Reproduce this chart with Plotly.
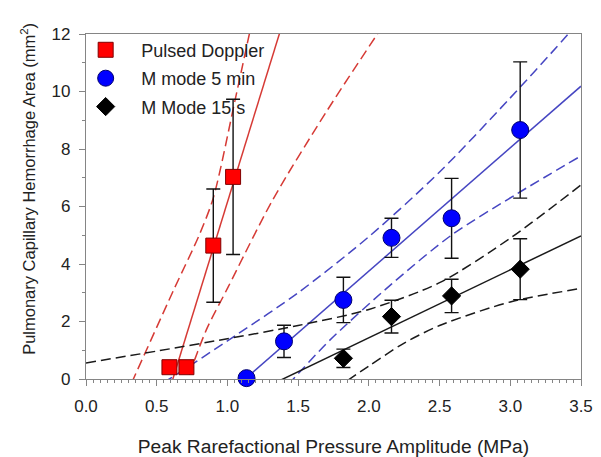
import numpy as np
import plotly.graph_objects as go

# --- data ---
pd_x = [0.59, 0.71, 0.90, 1.04]
pd_y = [0.41, 0.41, 4.64, 7.03]
pd_err = [0.0, 0.0, 1.97, 2.70]

m5_x = [1.135, 1.40, 1.82, 2.16, 2.585, 3.07]
m5_y = [0.03, 1.31, 2.75, 4.91, 5.59, 8.66]
m5_err = [0.0, 0.56, 0.79, 0.68, 1.39, 2.37]

m15_x = [1.82, 2.16, 2.585, 3.07]
m15_y = [0.72, 2.17, 2.89, 3.82]
m15_err = [0.32, 0.57, 0.58, 1.06]

# confidence-band curves, values
pd_band_hi_x = [0.28, 0.335, 0.62, 0.80, 0.90, 1.054, 1.155, 1.20]
pd_band_hi_y = [-0.6, 0.0, 3.1, 5.0, 6.3, 9.7, 12.0, 13.0]
pd_band_lo_x = [0.70, 0.72, 0.85, 1.0, 1.32, 1.7, 2.06, 2.12]
pd_band_lo_y = [-0.35, 0.0, 1.7, 3.15, 6.23, 9.3, 12.0, 12.45]

m5_band_hi_x = [0.55, 0.59, 1.06, 1.50, 2.00, 2.50, 2.985, 3.41, 3.46]
m5_band_hi_y = [-0.12, 0.0, 1.52, 3.0, 4.95, 7.2, 9.7, 12.0, 12.3]
m5_band_lo_x = [1.43, 1.466, 1.726, 2.16, 2.586, 3.05, 3.5]
m5_band_lo_y = [-0.19, 0.0, 1.36, 3.3, 5.01, 6.45, 7.76]

m15_band_hi_x = [0.0, 0.5, 1.0, 1.5, 2.0, 2.5, 3.0, 3.5]
m15_band_hi_y = [0.56, 0.97, 1.40, 1.86, 2.42, 3.35, 4.90, 6.75]
m15_band_lo_x = [1.85, 2.0, 2.25, 2.5, 3.0, 3.5]
m15_band_lo_y = [-0.05, 0.45, 1.25, 1.86, 2.68, 3.15]

x_ticks = [0.0, 0.5, 1.0, 1.5, 2.0, 2.5, 3.0, 3.5]
y_ticks = [0, 2, 4, 6, 8, 10, 12]
x_range = [0, 3.5]
y_range = [0, 12]

x_title = "Peak Rarefactional Pressure Amplitude (MPa)"
y_title = "Pulmonary Capillary Hemorrhage Area (mm<sup>2</sup>)"

series = [
    dict(name="Pulsed Doppler", x=pd_x, y=pd_y, e=pd_err,
         bands=[(pd_band_hi_x, pd_band_hi_y), (pd_band_lo_x, pd_band_lo_y)],
         mcol="#ff0000", lcol="#d63a35", sym="square", size=15, mline="#800000"),
    dict(name="M mode 5 min", x=m5_x, y=m5_y, e=m5_err,
         bands=[(m5_band_hi_x, m5_band_hi_y), (m5_band_lo_x, m5_band_lo_y)],
         mcol="#0000ff", lcol="#4646c2", sym="circle", size=17, mline="#000070"),
    dict(name="M Mode 15 s", x=m15_x, y=m15_y, e=m15_err,
         bands=[(m15_band_hi_x, m15_band_hi_y), (m15_band_lo_x, m15_band_lo_y)],
         mcol="#000000", lcol="#1a1a1a", sym="diamond", size=14, mline="#000000"),
]

fig = go.Figure()

# regression lines (least squares on the points) and confidence bands
for s in series:
    b, a = np.polyfit(s["x"], s["y"], 1)
    xs = np.array(x_range, float)
    fig.add_trace(go.Scatter(x=xs, y=a + b * xs, mode="lines",
                             line=dict(color=s["lcol"], width=1.5),
                             showlegend=False, hoverinfo="skip"))
    for bx, by in s["bands"]:
        fig.add_trace(go.Scatter(x=bx, y=by, mode="lines",
                                 line=dict(color=s["lcol"], width=1.5, dash="10px,5px",
                                           shape="spline", smoothing=0.8),
                                 showlegend=False, hoverinfo="skip"))

# data points with error bars
for i, s in enumerate(series):
    fig.add_trace(go.Scatter(
        x=s["x"], y=s["y"], mode="markers", name=s["name"], legendgroup=f"g{i}",
        marker=dict(symbol=s["sym"], size=s["size"], color=s["mcol"],
                    line=dict(color=s["mline"], width=1)),
        error_y=dict(type="data", array=s["e"], visible=True, color="#111111",
                     thickness=1.4, width=7),
        cliponaxis=False,
    ))

font_family = "Liberation Sans, Arial"
axis_common = dict(
    showline=True, linecolor="#858585", linewidth=1.2, mirror=True,
    ticks="outside", ticklen=6, tickcolor="#858585", tickwidth=1,
    showgrid=False, zeroline=False, automargin=False,
    ticklabelstandoff=5,
    tickfont=dict(family=font_family, size=17, color="#222222"),
)

fig.update_layout(
    width=593, height=449,
    margin=dict(l=78, r=20, t=26, b=78),
    paper_bgcolor="white", plot_bgcolor="white",
    font=dict(family=font_family, size=17, color="#222222"),
    xaxis=dict(
        range=x_range, tickvals=x_ticks, ticktext=[f"{v:.1f}" for v in x_ticks],
        minor=dict(dtick=0.05, tick0=0, ticks="outside", ticklen=3, tickcolor="#858585"),
        title=dict(text=x_title, font=dict(size=19.2), standoff=31),
        **axis_common,
    ),
    yaxis=dict(
        range=y_range, tickvals=y_ticks,
        minor=dict(dtick=1, tick0=0, ticks="outside", ticklen=3, tickcolor="#858585"),
        **axis_common,
    ),
    annotations=[dict(
        text=y_title, textangle=-90, showarrow=False,
        xref="paper", yref="paper", x=-0.116, y=0.55,
        xanchor="center", yanchor="middle",
        font=dict(family=font_family, size=16.5, color="#222222"),
    )],
    legend=dict(x=-0.032, y=1.007, xanchor="left", yanchor="top",
                bgcolor="rgba(0,0,0,0)", tracegroupgap=2, itemwidth=61,
                font=dict(family=font_family, size=18, color="#222222")),
)

fig.write_html("out.html")
